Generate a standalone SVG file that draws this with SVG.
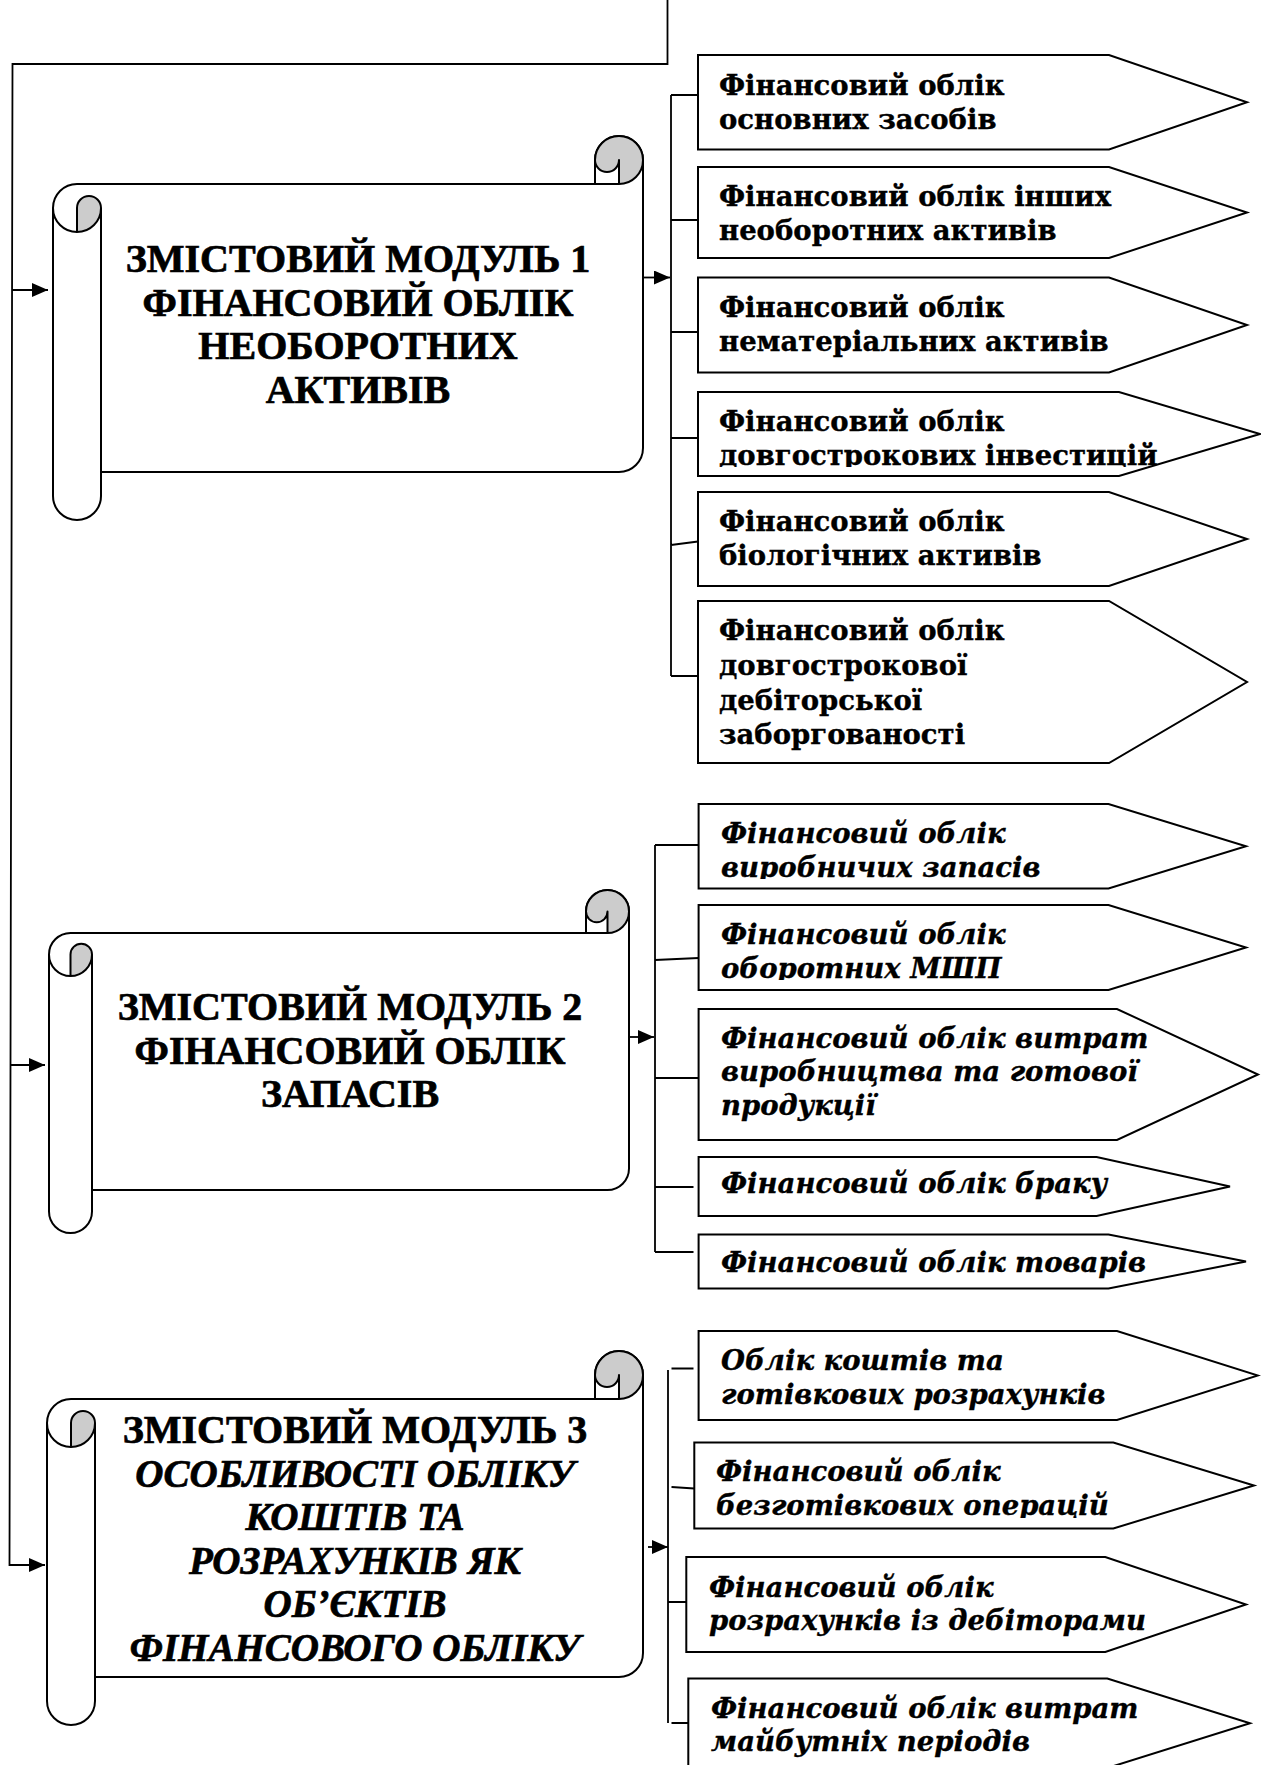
<svg xmlns="http://www.w3.org/2000/svg" width="1261" height="1765" viewBox="0 0 1261 1765">
<defs>
<style>
.bg{fill:#fff}
.box{fill:#fff;stroke:#000;stroke-width:2;stroke-linejoin:miter}
.scroll{fill:#fff;stroke:#000;stroke-width:2;stroke-linejoin:round}
.curl{fill:#ccc;stroke:#000;stroke-width:2;stroke-linejoin:round}
.ln{fill:none;stroke:#000;stroke-width:2}
.cn{fill:none;stroke:#000;stroke-width:1.8}
.t{font-family:"DejaVu Serif","Liberation Serif",serif;font-weight:bold;font-size:27.5px;fill:#000;stroke:#000;stroke-width:0.35}
.ti{font-style:italic}
.h{font-family:"Liberation Serif",serif;font-weight:bold;font-size:40px;text-anchor:middle;fill:#000;stroke:#000;stroke-width:0.7}
.hi{font-style:italic;font-size:39px}
</style>
<marker id="arr" markerUnits="userSpaceOnUse" markerWidth="16" markerHeight="14" refX="16" refY="7" orient="auto">
<path d="M0,0 L16,7 L0,14 Z" fill="#000"/>
</marker>
<clipPath id="c1"><rect x="690" y="380" width="560" height="87"/></clipPath>
<clipPath id="c2"><rect x="690" y="800" width="560" height="79"/></clipPath>
<clipPath id="c3"><rect x="690" y="900" width="560" height="80"/></clipPath>
<clipPath id="c4"><rect x="690" y="1440" width="560" height="78"/></clipPath>
</defs>
<rect class="bg" x="0" y="0" width="1261" height="1765"/>

<g id="connectors">
<path class="cn" d="M667.5,0 V64 H12.5 L9.5,1565 L45,1565" marker-end="url(#arr)"/>
<path class="cn" d="M12,290 L48,290" marker-end="url(#arr)"/>
<path class="cn" d="M10.5,1065 L45,1065" marker-end="url(#arr)"/>
<path class="cn" d="M643,277.5 L670,277.5" marker-end="url(#arr)"/>
<path class="cn" d="M629,1037 L654,1037" marker-end="url(#arr)"/>
<path class="cn" d="M648,1547 L668,1547" marker-end="url(#arr)"/>
<path class="cn" d="M671,95 V676 M671,95 H698 M671,220 H698 M671,332 H698 M671,438 H698 M671,545 L698,541.5 M671,676 H698"/>
<path class="cn" d="M655,845 V1252 M655,845 H698.6 M655,960 L698.6,958 M655,1078 H698.6 M655,1187 H693.5 M655,1252 H693.5"/>
<path class="cn" d="M668,1370 V1723 M671.5,1368.5 H693.5 M671.5,1487 L694.3,1488.5 M668,1602 H686.3 M671.5,1723 H688.3"/>
</g>

<g id="module1">
<path class="scroll" d="M77,184 L595,184 L595,160 A24,24 0 0 1 643,160 L643,448 A24,24 0 0 1 619,472 L101,472 L101,496 A24,24 0 0 1 53,496 L53,208 A24,24 0 0 1 77,184 Z"/>
<path class="curl" d="M595,160 A24,24 0 0 1 643,160 A24,24 0 0 1 619,184 L619,160 A12,12 0 0 1 595,160 Z"/>
<path class="curl" d="M77,208 A12,12 0 0 1 101,208 A24,24 0 0 1 77,232 Z"/>
<path class="ln" d="M595,184 L619,184 M53,208 A24,24 0 0 0 77,232 M101,208 L101,472"/>
<text class="h" x="358" y="272">ЗМІСТОВИЙ МОДУЛЬ 1</text>
<text class="h" x="358" y="315.5">ФІНАНСОВИЙ ОБЛІК</text>
<text class="h" x="358" y="359">НЕОБОРОТНИХ</text>
<text class="h" x="358" y="402.5">АКТИВІВ</text>
</g>

<g id="module2">
<path class="scroll" d="M70.5,933 L586,933 L586,911.5 A21.5,21.5 0 0 1 629,911.5 L629,1168.5 A21.5,21.5 0 0 1 607.5,1190 L92,1190 L92,1211.5 A21.5,21.5 0 0 1 49,1211.5 L49,954.5 A21.5,21.5 0 0 1 70.5,933 Z"/>
<path class="curl" d="M586,911.5 A21.5,21.5 0 0 1 629,911.5 A21.5,21.5 0 0 1 607.5,933 L607.5,911.5 A10.75,10.75 0 0 1 586,911.5 Z"/>
<path class="curl" d="M70.5,954.5 A10.75,10.75 0 0 1 92,954.5 A21.5,21.5 0 0 1 70.5,976 Z"/>
<path class="ln" d="M586,933 L607.5,933 M49,954.5 A21.5,21.5 0 0 0 70.5,976 M92,954.5 L92,1190"/>
<text class="h" x="350" y="1020">ЗМІСТОВИЙ МОДУЛЬ 2</text>
<text class="h" x="350" y="1064">ФІНАНСОВИЙ ОБЛІК</text>
<text class="h" x="350" y="1107">ЗАПАСІВ</text>
</g>

<g id="module3">
<path class="scroll" d="M71,1399 L595,1399 L595,1375 A24,24 0 0 1 643,1375 L643,1653 A24,24 0 0 1 619,1677 L95,1677 L95,1701 A24,24 0 0 1 47,1701 L47,1423 A24,24 0 0 1 71,1399 Z"/>
<path class="curl" d="M595,1375 A24,24 0 0 1 643,1375 A24,24 0 0 1 619,1399 L619,1375 A12,12 0 0 1 595,1375 Z"/>
<path class="curl" d="M71,1423 A12,12 0 0 1 95,1423 A24,24 0 0 1 71,1447 Z"/>
<path class="ln" d="M595,1399 L619,1399 M47,1423 A24,24 0 0 0 71,1447 M95,1423 L95,1677"/>
<text class="h" x="355" y="1443">ЗМІСТОВИЙ МОДУЛЬ 3</text>
<text class="h hi" x="355" y="1486.5">ОСОБЛИВОСТІ ОБЛІКУ</text>
<text class="h hi" x="355" y="1530">КОШТІВ ТА</text>
<text class="h hi" x="355" y="1573.5">РОЗРАХУНКІВ ЯК</text>
<text class="h hi" x="355" y="1617">ОБ’ЄКТІВ</text>
<text class="h hi" x="355" y="1660.5">ФІНАНСОВОГО ОБЛІКУ</text>
</g>

<g id="m1-item1">
<path class="box" d="M698,55 H1109 L1247,102.25 L1109,149.5 H698 Z"/>
<text class="t" x="719" y="95">Фінансовий облік</text>
<text class="t" x="719" y="129">основних засобів</text>
</g>
<g id="m1-item2">
<path class="box" d="M698,167 H1109 L1247,212.5 L1109,258 H698 Z"/>
<text class="t" x="719" y="205.5">Фінансовий облік інших</text>
<text class="t" x="719" y="240">необоротних активів</text>
</g>
<g id="m1-item3">
<path class="box" d="M698,277.5 H1109 L1247,325 L1109,372.5 H698 Z"/>
<text class="t" x="719" y="317">Фінансовий облік</text>
<text class="t" x="719" y="351">нематеріальних активів</text>
</g>
<g id="m1-item4">
<path class="box" d="M698,392 H1119 L1260,434 L1119,476 H698 Z"/>
<text class="t" x="719" y="431">Фінансовий облік</text>
<text class="t" x="719" y="465" clip-path="url(#c1)">довгострокових інвестицій</text>
</g>
<g id="m1-item5">
<path class="box" d="M698,492 H1109 L1247,539 L1109,586 H698 Z"/>
<text class="t" x="719" y="531">Фінансовий облік</text>
<text class="t" x="719" y="565">біологічних активів</text>
</g>
<g id="m1-item6">
<path class="box" d="M698,601 H1109 L1247,682 L1109,763 H698 Z"/>
<text class="t" x="719" y="640">Фінансовий облік</text>
<text class="t" x="719" y="675">довгострокової</text>
<text class="t" x="719" y="709.5">дебіторської</text>
<text class="t" x="719" y="744">заборгованості</text>
</g>

<g id="m2-item1">
<path class="box" d="M698.6,804 H1108.5 L1246,846.25 L1108.5,888.5 H698.6 Z"/>
<text class="t ti" x="721" y="842.5">Фінансовий облік</text>
<text class="t ti" x="721" y="876.5" clip-path="url(#c2)">виробничих запасів</text>
</g>
<g id="m2-item2">
<path class="box" d="M698.6,905 H1108.5 L1246,947.5 L1108.5,990 H698.6 Z"/>
<text class="t ti" x="721" y="944">Фінансовий облік</text>
<text class="t ti" x="721" y="978" clip-path="url(#c3)">оборотних МШП</text>
</g>
<g id="m2-item3">
<path class="box" d="M698.6,1009 H1117 L1258,1074.5 L1117,1140 H698.6 Z"/>
<text class="t ti" x="721" y="1048">Фінансовий облік витрат</text>
<text class="t ti" x="721" y="1081">виробництва та готової</text>
<text class="t ti" x="721" y="1115">продукції</text>
</g>
<g id="m2-item4">
<path class="box" d="M698.6,1157 H1096.6 L1230,1186.5 L1096.6,1216 H698.6 Z"/>
<text class="t ti" x="721" y="1193">Фінансовий облік браку</text>
</g>
<g id="m2-item5">
<path class="box" d="M698.6,1234.5 H1108.5 L1246,1261.5 L1108.5,1288.5 H698.6 Z"/>
<text class="t ti" x="721" y="1272">Фінансовий облік товарів</text>
</g>

<g id="m3-item1">
<path class="box" d="M698.6,1331 H1117 L1258,1375.5 L1117,1420 H698.6 Z"/>
<text class="t ti" x="721" y="1369.5">Облік коштів та</text>
<text class="t ti" x="721" y="1403.5">готівкових розрахунків</text>
</g>
<g id="m3-item2">
<path class="box" d="M694.3,1442.5 H1113.3 L1254,1485.5 L1113.3,1528.5 H694.3 Z"/>
<text class="t ti" x="716" y="1480.5">Фінансовий облік</text>
<text class="t ti" x="716" y="1515" clip-path="url(#c4)">безготівкових операцій</text>
</g>
<g id="m3-item3">
<path class="box" d="M686.3,1557 H1105.3 L1246,1604.5 L1105.3,1652 H686.3 Z"/>
<text class="t ti" x="709" y="1596.5">Фінансовий облік</text>
<text class="t ti" x="709" y="1630">розрахунків із дебіторами</text>
</g>
<g id="m3-item4">
<path class="box" d="M688.3,1678.5 H1107.3 L1250,1723.25 L1107.3,1768 H688.3 Z"/>
<text class="t ti" x="711" y="1717.5">Фінансовий облік витрат</text>
<text class="t ti" x="711" y="1751">майбутніх періодів</text>
</g>
</svg>
